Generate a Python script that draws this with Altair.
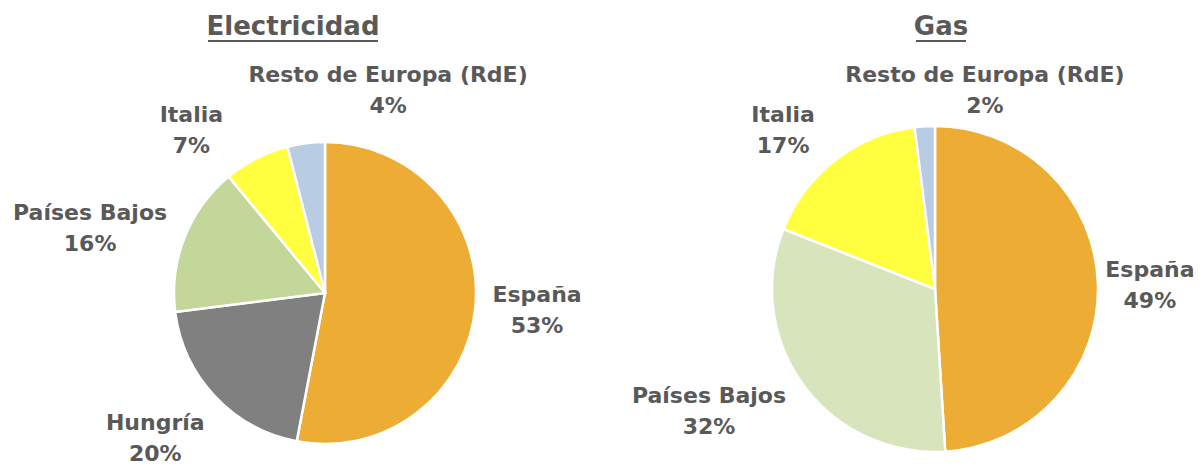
import altair as alt
import pandas as pd

pies = ["Electricidad"] * 5 + ["Gas"] * 4
names = ["España", "Hungría", "Países Bajos", "Italia", "Resto de Europa (RdE)",
         "España", "Países Bajos", "Italia", "Resto de Europa (RdE)"]
values = [53, 20, 16, 7, 4,
          49, 32, 17, 2]
order = [1, 2, 3, 4, 5, 1, 2, 3, 4]

colors = ["#EDAC33", "#808080", "#C4D79B", "#FFFF40", "#B8CCE4",
          "#EDAC33", "#D8E4BC", "#FFFF40", "#B8CCE4"]
keys = [f"{p}|{n}" for p, n in zip(pies, names)]

df = pd.DataFrame({"pie": pies, "name": names, "value": values, "order": order, "key": keys})

FONT = "DejaVu Sans"
TXT = "#595959"
TWO_PI = 6.283185307179586

# layout (pixels in the plot frame)
centers = {"Electricidad": (317, 285), "Gas": (927, 281)}
radii = {"Electricidad": 151, "Gas": 163}
label_r = {"Electricidad": 215, "Gas": 225}
LIFT = -15
nudges = {
    "Electricidad|España": (-2, -3),
    "Electricidad|Hungría": (-13, -2),
    "Electricidad|Países Bajos": (-35, 14),
    "Electricidad|Italia": (-36, 29),
    "Electricidad|Resto de Europa (RdE)": (90, 10),
    "Gas|España": (-10, 3),
    "Gas|Países Bajos": (-44, -10),
    "Gas|Italia": (-14, 19),
    "Gas|Resto de Europa (RdE)": (64, 26),
}

base = alt.Chart(df).transform_window(
    cum="sum(value)", groupby=["pie"], sort=[alt.SortField("order")], frame=[None, 0]
).transform_calculate(
    start="datum.cum - datum.value",
    mid="datum.cum - datum.value / 2",
    label="datum.name + '\\n' + datum.value + '%'",
)

theta_scale = alt.Scale(domain=[0, 100], range=[0, TWO_PI])
color_enc = alt.Color("key:N", scale=alt.Scale(domain=keys, range=colors), legend=None)

layers = []
for pie in ["Electricidad", "Gas"]:
    cx, cy = centers[pie]
    arc = base.transform_filter(alt.datum.pie == pie).mark_arc(
        x=cx, y=cy, radius=radii[pie], stroke="white", strokeWidth=2.5
    ).encode(
        theta=alt.Theta("start:Q", scale=theta_scale),
        theta2="cum:Q",
        color=color_enc,
    )
    layers.append(arc)

for key, (dx, dy) in nudges.items():
    pie, name = key.split("|", 1)
    cx, cy = centers[pie]
    txt = base.transform_filter(alt.datum.key == key).mark_text(
        x=cx, y=cy, radius=label_r[pie], dx=dx, dy=dy + LIFT,
        font=FONT, fontSize=22, fontWeight="bold", color=TXT,
        align="center", baseline="middle", lineBreak="\n", lineHeight=31,
    ).encode(
        theta=alt.Theta("mid:Q", scale=theta_scale),
        text="label:N",
    )
    layers.append(txt)

titles = pd.DataFrame({"title": ["Electricidad", "Gas"]})
title_pos = {"Electricidad": (285, 19), "Gas": (933, 19)}
underline = {"Electricidad": (200, 370, 33), "Gas": (908, 958, 33)}
for t in ["Electricidad", "Gas"]:
    tx, ty = title_pos[t]
    layers.append(
        alt.Chart(titles).transform_filter(alt.datum.title == t).mark_text(
            font=FONT, fontSize=26, fontWeight="bold", color=TXT,
            align="center", baseline="middle",
        ).encode(x=alt.value(tx), y=alt.value(ty), text="title:N")
    )
    x1, x2, uy = underline[t]
    layers.append(
        alt.Chart(titles).transform_filter(alt.datum.title == t).mark_rule(
            color=TXT, strokeWidth=2
        ).encode(x=alt.value(x1), x2=alt.value(x2), y=alt.value(uy))
    )

chart = alt.layer(*layers).properties(
    width=1188, height=458, autosize=alt.AutoSizeParams(type="none"), padding=0
).configure_view(stroke=None)

chart.save("out.html", embed_options={"renderer": "svg", "actions": False})
